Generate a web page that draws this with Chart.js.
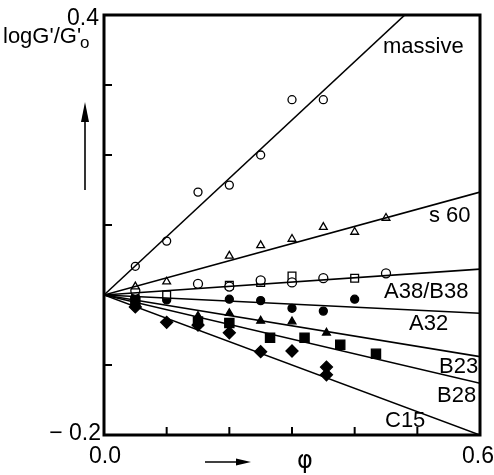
<!DOCTYPE html>
<html>
<head>
<meta charset="utf-8">
<script src="https://cdn.jsdelivr.net/npm/chart.js@4"></script>
<style>
  html, body { margin: 0; padding: 0; background: #fff; }
  #wrap { width: 494px; height: 475px; position: relative; }
</style>
</head>
<body>
<div id="wrap"><canvas id="chart" width="494" height="475"></canvas></div>
<script>
    // axis range and tick positions
    const xTicks = [0.1, 0.2, 0.3, 0.4, 0.5];
    const yTicks = [0.3, 0.2, 0.1, 0.0, -0.1];

    // fitted lines through the origin: end point of each line
    const lineNames = ['massive', 's 60', 'A38/B38', 'A32', 'B23', 'B28', 'C15'];
    const lineEndX = [0.48, 0.6, 0.6, 0.6, 0.6, 0.6, 0.6];
    const lineEndY = [0.4, 0.147, 0.037, -0.026, -0.088, -0.126, -0.2];

    // measured points
    const massiveX = [0.05, 0.1, 0.15, 0.2, 0.25, 0.3, 0.35];
    const massiveY = [0.041, 0.077, 0.147, 0.157, 0.2, 0.279, 0.279];

    const s60X = [0.05, 0.1, 0.2, 0.25, 0.3, 0.35, 0.4, 0.45];
    const s60Y = [0.012, 0.019, 0.056, 0.071, 0.08, 0.097, 0.09, 0.11];

    const a38X = [0.05, 0.15, 0.2, 0.25, 0.3, 0.35, 0.45];
    const a38Y = [0.006, 0.016, 0.012, 0.021, 0.018, 0.024, 0.031];

    const b38X = [0.1, 0.2, 0.25, 0.3, 0.4];
    const b38Y = [0.0, 0.014, 0.018, 0.027, 0.024];

    const a32X = [0.05, 0.1, 0.2, 0.25, 0.3, 0.35, 0.4];
    const a32Y = [-0.002, -0.007, -0.006, -0.008, -0.019, -0.023, -0.006];

    const b23X = [0.05, 0.15, 0.2, 0.25, 0.3, 0.355];
    const b23Y = [-0.006, -0.03, -0.026, -0.037, -0.038, -0.054];

    const b28X = [0.05, 0.15, 0.2, 0.265, 0.32, 0.377, 0.434];
    const b28Y = [-0.01, -0.038, -0.04, -0.061, -0.061, -0.071, -0.084];

    const c15X = [0.05, 0.1, 0.15, 0.2, 0.25, 0.3, 0.355, 0.355];
    const c15Y = [-0.017, -0.039, -0.043, -0.054, -0.081, -0.08, -0.103, -0.114];

    function pts(xs, ys) {
      return xs.map((x, i) => ({ x: x, y: ys[i] }));
    }

    const lineSets = lineNames.map((name, i) => ({
      type: 'line',
      label: name,
      data: [{ x: 0, y: 0 }, { x: lineEndX[i], y: lineEndY[i] }],
      borderColor: '#000',
      borderWidth: 1.6,
      pointRadius: 0,
      fill: false
    }));

    function markers(label, xs, ys, style, filled, radius) {
      return {
        type: 'scatter',
        label: label,
        data: pts(xs, ys),
        pointStyle: style,
        pointRadius: radius,
        borderColor: '#000',
        borderWidth: 1.3,
        backgroundColor: filled ? '#000' : '#fff'
      };
    }

    const pointSets = [
      markers('massive', massiveX, massiveY, 'circle', false, 4),
      markers('s60', s60X, s60Y, 'triangle', false, 4.5),
      markers('A38', a38X, a38Y, 'circle', false, 4.5),
      markers('B38', b38X, b38Y, 'rect', false, 5.5),
      markers('A32', a32X, a32Y, 'circle', true, 4),
      markers('B23', b23X, b23Y, 'triangle', true, 4.5),
      markers('B28', b28X, b28Y, 'rect', true, 6.5),
      markers('C15', c15X, c15Y, 'rectRot', true, 6)
    ];

    const FONT = '"Liberation Sans", Arial, sans-serif';

    const decor = {
      id: 'decor',
      afterDraw(chart) {
        const ctx = chart.ctx;
        const a = chart.chartArea;
        const xs = chart.scales.x, ys = chart.scales.y;
        ctx.save();
        ctx.strokeStyle = '#000';
        ctx.fillStyle = '#000';

        // frame
        ctx.lineWidth = 3;
        ctx.strokeRect(a.left, a.top, a.right - a.left, a.bottom - a.top);

        // inward ticks
        ctx.lineWidth = 2;
        xTicks.forEach(v => {
          const px = xs.getPixelForValue(v);
          ctx.beginPath(); ctx.moveTo(px, a.bottom); ctx.lineTo(px, a.bottom - 8); ctx.stroke();
        });
        yTicks.forEach(v => {
          const py = ys.getPixelForValue(v);
          ctx.beginPath(); ctx.moveTo(a.left, py); ctx.lineTo(a.left + 8, py); ctx.stroke();
        });

        // tick labels
        ctx.font = '23px ' + FONT;
        ctx.textBaseline = 'alphabetic';
        ctx.textAlign = 'right';
        ctx.fillText('0.4', a.left - 5, a.top + 10);
        ctx.fillText('\u2212 0.2', a.left - 3, a.bottom + 5);
        ctx.fillText('0.6', 494, a.bottom + 28);
        ctx.textAlign = 'center';
        ctx.fillText('0.0', a.left + 1, a.bottom + 28);

        // y axis title
        ctx.textAlign = 'left';
        ctx.font = '22px ' + FONT;
        const title = "logG'/G'";
        ctx.fillText(title, 3, 43);
        const tw = ctx.measureText(title).width;
        ctx.font = '17px ' + FONT;
        ctx.fillText('o', 3 + tw - 1, 48);

        // x axis symbol
        ctx.font = '24px "DejaVu Sans", sans-serif';
        ctx.textAlign = 'center';
        ctx.fillText('\u03c6', 305, 468);

        // arrows
        ctx.lineWidth = 1.6;
        ctx.beginPath(); ctx.moveTo(85, 190); ctx.lineTo(85, 112); ctx.stroke();
        ctx.beginPath(); ctx.moveTo(85, 102); ctx.lineTo(81, 122); ctx.lineTo(89, 122); ctx.closePath(); ctx.fill();
        ctx.beginPath(); ctx.moveTo(205, 462); ctx.lineTo(240, 462); ctx.stroke();
        ctx.beginPath(); ctx.moveTo(251, 462); ctx.lineTo(236, 458.5); ctx.lineTo(236, 465.5); ctx.closePath(); ctx.fill();

        // line names
        ctx.textAlign = 'left';
        ctx.font = '22px ' + FONT;
        ctx.fillText('massive', 383, 53);
        ctx.fillText('s 60', 429, 222);
        ctx.fillText('A38/B38', 384, 298);
        ctx.fillText('A32', 409, 330);
        ctx.fillText('B23', 439, 373);
        ctx.fillText('B28', 437, 402);
        ctx.fillText('C15', 385, 427);
        ctx.restore();
      }
    };

    new Chart(document.getElementById('chart'), {
      data: { datasets: lineSets.concat(pointSets) },
      options: {
        responsive: false,
        animation: false,
        layout: { padding: { left: 104, right: 14, top: 15, bottom: 40 } },
        plugins: { legend: { display: false }, tooltip: { enabled: false } },
        scales: {
          x: { type: 'linear', min: 0, max: 0.6, display: false },
          y: { type: 'linear', min: -0.2, max: 0.4, display: false }
        }
      },
      plugins: [decor]
    });
</script>
</body>
</html>
